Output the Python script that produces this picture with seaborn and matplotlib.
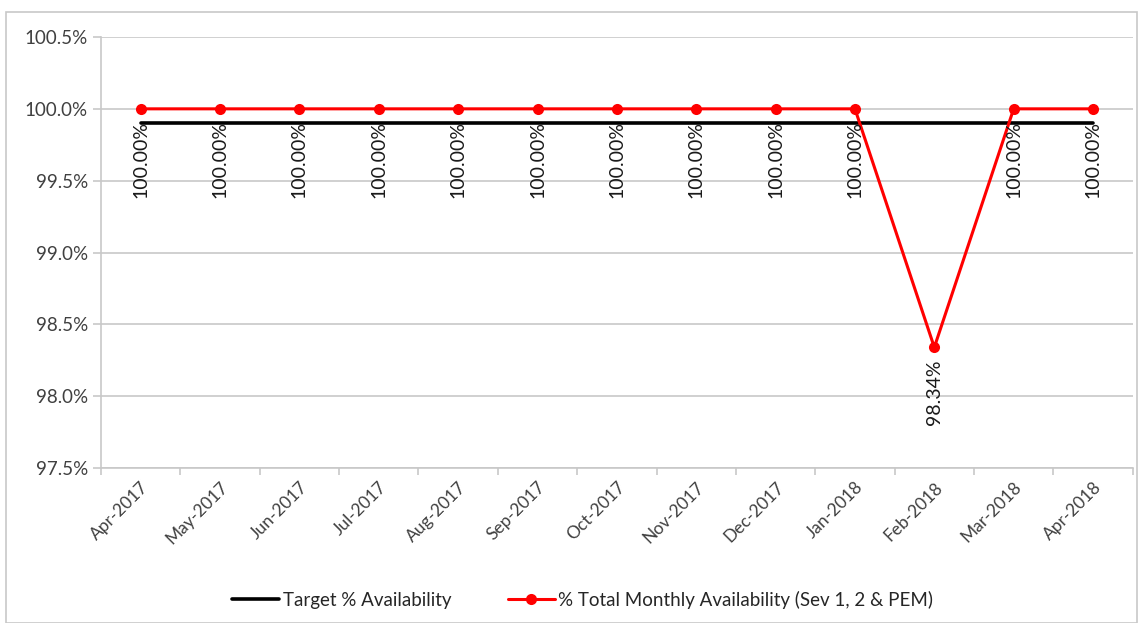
import pandas as pd
import matplotlib
matplotlib.use("Agg")
import matplotlib.pyplot as plt
import seaborn as sns
from matplotlib.ticker import FuncFormatter, FixedLocator
from matplotlib.patches import Rectangle

# === Data ===
months = ["Apr-2017", "May-2017", "Jun-2017", "Jul-2017", "Aug-2017", "Sep-2017",
          "Oct-2017", "Nov-2017", "Dec-2017", "Jan-2018", "Feb-2018", "Mar-2018", "Apr-2018"]
availability = [100.00, 100.00, 100.00, 100.00, 100.00, 100.00,
                100.00, 100.00, 100.00, 100.00, 98.34, 100.00, 100.00]
target = [99.9] * len(months)

target_label = "Target % Availability"
avail_label = "% Total Monthly Availability (Sev 1, 2 & PEM)"

df = pd.DataFrame({"Month": months, "Availability": availability, "Target": target})

# === Style ===
sns.set_style("white")
plt.rcParams["font.family"] = ["Lato", "DejaVu Sans"]

fig = plt.figure(figsize=(11.43, 6.23), dpi=100)
ax = fig.add_axes([0.0884, 0.2488, 0.9026, 0.6918])

sns.lineplot(data=df, x="Month", y="Target", ax=ax, color="black", linewidth=2.6,
             sort=False, label=target_label)
sns.lineplot(data=df, x="Month", y="Availability", ax=ax, color="#ff0000", linewidth=2.2,
             marker="o", markersize=8, markeredgewidth=0, sort=False, label=avail_label)

# Data labels (rotated, below each point)
for i, v in enumerate(availability):
    ax.annotate(f"{v:.2f}%", xy=(i, v), xytext=(0, -9), textcoords="offset points",
                rotation=90, ha="center", va="top", fontsize=14, color="#1a1a1a")

# === Axes ===
ax.set_xlim(-0.5, len(months) - 0.5)
ax.set_ylim(97.5, 100.5)
ax.set_yticks([97.5, 98.0, 98.5, 99.0, 99.5, 100.0, 100.5])
ax.yaxis.set_major_formatter(FuncFormatter(lambda y, _: f"{y:.1f}%"))
ax.grid(axis="y", color="#c8c8c8", linewidth=1.2)
ax.set_axisbelow(True)

ax.set_xticks(range(len(months)))
ax.set_xticklabels(months, rotation=45, ha="right", rotation_mode="anchor", fontsize=12.5, color="#404040")
ax.xaxis.set_minor_locator(FixedLocator([i - 0.5 for i in range(len(months) + 1)]))
ax.tick_params(axis="x", which="major", length=0, pad=8)
ax.tick_params(axis="x", which="minor", length=5, color="#c8c8c8", width=1.2, direction="out", bottom=True)
ax.tick_params(axis="y", length=6, color="#c8c8c8", width=1.2, labelsize=13.5, labelcolor="#404040", left=True)
ax.set_xlabel("")
ax.set_ylabel("")

for side in ["top", "right"]:
    ax.spines[side].set_visible(False)
for side in ["left", "bottom"]:
    ax.spines[side].set_color("#c8c8c8")
    ax.spines[side].set_linewidth(1.2)

ax.legend(loc="upper center", bbox_to_anchor=(0.467, -0.245), ncol=2, frameon=False,
          fontsize=13.5, handlelength=2.5, columnspacing=3, handletextpad=0.2)

# Outer chart border
fig.patches.append(Rectangle((0.005, 0.0), 0.99, 0.98, transform=fig.transFigure,
                             fill=False, edgecolor="#c8c8c8", linewidth=1.2))

plt.savefig("out.png", dpi=100)
